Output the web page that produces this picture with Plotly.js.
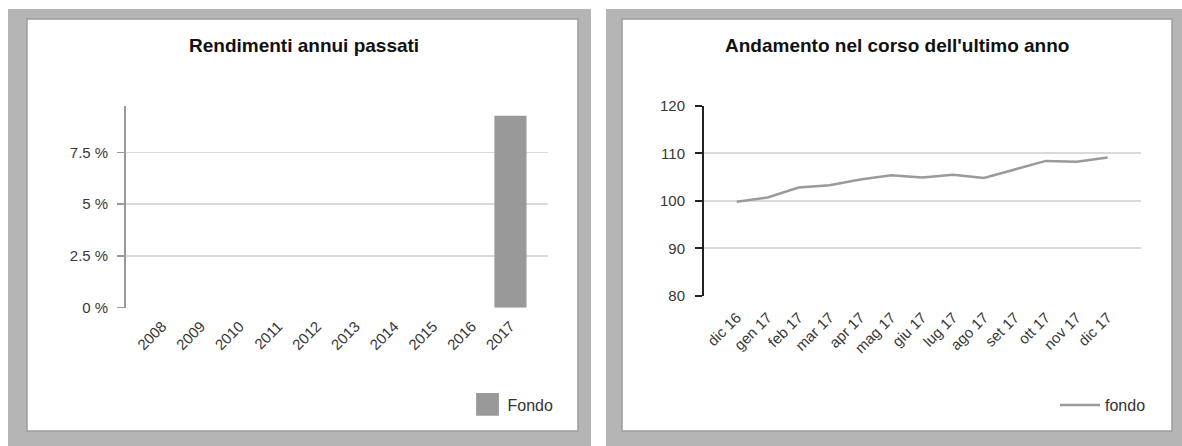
<!DOCTYPE html>
<html>
<head>
<meta charset="utf-8">
<script src="https://cdn.plot.ly/plotly-3.0.1.min.js"></script>
<style>
html,body{margin:0;padding:0;background:#fff;}
#chart{width:1182px;height:446px;}
g.legend g.legendpoints path{transform:translate(20px,0px) scale(1.9) !important;}
</style>
</head>
<body>
<div id="chart"></div>
<script>
// ---- data ----
const years = ['2008','2009','2010','2011','2012','2013','2014','2015','2016','2017'];
const annualReturns = [null,null,null,null,null,null,null,null,null,9.27];
const returnTickVals = [0, 2.5, 5, 7.5];
const returnTickText = ['0 %','2.5 %','5 %','7.5 %'];

const months = ['dic 16','gen 17','feb 17','mar 17','apr 17','mag 17','giu 17','lug 17','ago 17','set 17','ott 17','nov 17','dic 17'];
const fundValues = [99.8, 100.7, 102.8, 103.3, 104.5, 105.4, 104.9, 105.5, 104.8, 106.6, 108.4, 108.2, 109.1];

const leftTitle = 'Rendimenti annui passati';
const rightTitle = "Andamento nel corso dell'ultimo anno";
const barName = 'Fondo';
const lineName = 'fondo';

// ---- layout helpers ----
const W = 1182, H = 446;
const px = x => x / W;
const py = y => 1 - y / H;
const FONT = 'Liberation Sans, Arial, sans-serif';
const tickFont = {family: FONT, size: 15, color: '#383838'};

function rect(x0, y0, x1, y1, fill, lineColor, lineWidth) {
  return {type: 'rect', xref: 'paper', yref: 'paper', layer: 'below',
    x0: px(x0), x1: px(x1), y0: py(y1), y1: py(y0),
    fillcolor: fill, line: {color: lineColor || fill, width: lineWidth || 0}};
}

const traces = [
  {type: 'bar', x: years, y: annualReturns, name: barName, xaxis: 'x', yaxis: 'y',
   marker: {color: '#999999'}, width: 0.83, legend: 'legend', showlegend: true,
   hoverinfo: 'skip'},
  {type: 'scatter', mode: 'lines', x: months, y: fundValues, name: lineName,
   xaxis: 'x2', yaxis: 'y2', line: {color: '#9a9a9a', width: 2.5},
   legend: 'legend2', showlegend: true, hoverinfo: 'skip'}
];

const layout = {
  width: W, height: H,
  margin: {l: 0, r: 0, t: 0, b: 0},
  paper_bgcolor: '#ffffff', plot_bgcolor: 'rgba(0,0,0,0)',
  font: {family: FONT, color: '#333'},
  showlegend: true,
  shapes: [
    rect(8, 9, 591, 446, '#b5b5b5'),
    rect(27, 19, 578, 431, '#ffffff', '#9c9c9c', 1.5),
    rect(606, 9, 1182, 446, '#b5b5b5'),
    rect(622, 19, 1172, 431, '#ffffff', '#9c9c9c', 1.5)
  ],
  annotations: [
    {text: leftTitle, xref: 'paper', yref: 'paper', x: px(304), y: py(46),
     xanchor: 'center', yanchor: 'middle', showarrow: false,
     font: {family: FONT, size: 19, color: '#111', weight: 700}},
    {text: rightTitle, xref: 'paper', yref: 'paper', x: px(897), y: py(46),
     xanchor: 'center', yanchor: 'middle', showarrow: false,
     font: {family: FONT, size: 19, color: '#111', weight: 700}}
  ],
  xaxis: {domain: [px(125.7), px(548)], anchor: 'y', type: 'category',
    range: [-0.94, 9.97], showgrid: false, showline: false, zeroline: false,
    ticks: '', tickangle: -45, tickfont: tickFont, ticklabelstandoff: 6, fixedrange: true},
  yaxis: {domain: [py(307.7), py(105.7)], anchor: 'x', range: [0, 9.75],
    tickvals: returnTickVals, ticktext: returnTickText, tickfont: tickFont,
    ticklabelstandoff: 6,
    showgrid: true, gridcolor: '#dadada', gridwidth: 1.5, zeroline: false,
    showline: true, linecolor: '#999', linewidth: 1.5,
    ticks: 'outside', ticklen: 7, tickcolor: '#999', tickwidth: 1.5, fixedrange: true},
  xaxis2: {domain: [px(704), px(1141)], anchor: 'y2', type: 'category',
    range: [-1.06, 13.08], showgrid: false, showline: false, zeroline: false,
    ticks: '', tickangle: -45, tickfont: tickFont, ticklabelstandoff: 9, fixedrange: true},
  yaxis2: {domain: [py(296), py(105.7)], anchor: 'x2', range: [80, 120], dtick: 10,
    tickfont: tickFont, ticklabelstandoff: 7,
    showgrid: true, gridcolor: '#dadada', gridwidth: 2, zeroline: false,
    showline: true, linecolor: '#222', linewidth: 2,
    ticks: 'outside', ticklen: 7, tickcolor: '#222', tickwidth: 2, fixedrange: true},
  legend: {x: px(467.5), y: py(387.5), xanchor: 'left', yanchor: 'top',
    bgcolor: 'rgba(0,0,0,0)', font: {family: FONT, size: 16, color: '#333'}},
  legend2: {x: px(1055), y: py(388), xanchor: 'left', yanchor: 'top', itemwidth: 40,
    bgcolor: 'rgba(0,0,0,0)', font: {family: FONT, size: 16, color: '#333'}}
};

Plotly.newPlot('chart', traces, layout, {displayModeBar: false, staticPlot: true});
</script>
</body>
</html>
